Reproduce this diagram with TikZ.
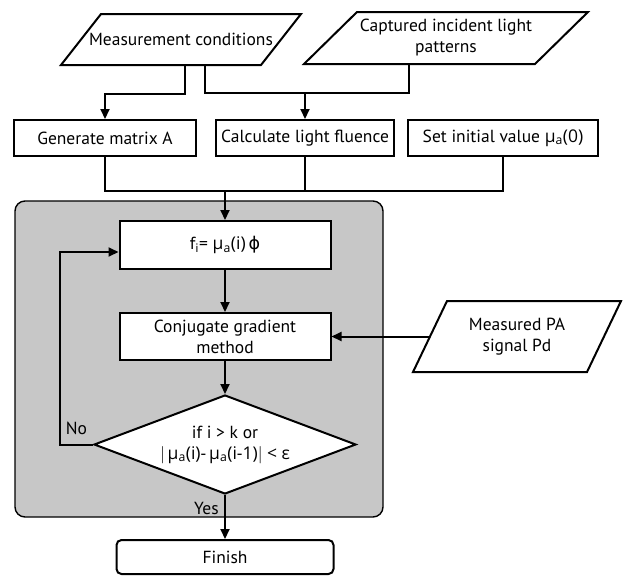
\documentclass[tikz,border=0pt]{standalone}
\usepackage{fontspec}
\setmainfont{PT Sans}
\newfontfamily\grk{Open Sans}
\newfontfamily\sym{DejaVu Sans}
\usetikzlibrary{arrows.meta,shapes.geometric}

\begin{document}
\begin{tikzpicture}[x=1pt,y=-1pt,>={Triangle[length=10pt,width=9pt]},
  line width=2pt,font=\fontsize{17.5}{21}\selectfont]
  \tikzstyle{io}=[inner sep=0pt,align=center]
  \tikzstyle{process}=[draw,fill=white,minimum height=36pt,inner sep=2pt,align=center]
  \tikzstyle{decision}=[draw,fill=white,diamond,aspect=2.65,inner sep=0pt,
    minimum width=262pt,minimum height=99pt,align=center]
  \tikzstyle{loopbg}=[draw,fill=black!22,rounded corners=10pt,line width=1.4pt,
    minimum width=368pt,minimum height=316pt]

  \useasboundingbox (0,0) rectangle (626,576);

  \node[loopbg] (L) at (199,359) {};

  \node[io,minimum width=238pt,minimum height=49pt] (MC) at (181,39.5) {Measurement conditions};
  \node[io,minimum width=282pt,minimum height=50pt] (CP) at (446,38) {Captured incident light\\patterns};
  \node[process,minimum width=182pt] (GA)  at (105,138) {Generate matrix A};
  \node[process,minimum width=178pt] (CLF) at (305,138) {Calculate light fluence};
  \node[process,minimum width=190pt] (SIV) at (503,138) {Set initial value \grk{μ}\textsubscript{a}(0)};
  \node[process,minimum width=211pt,minimum height=48pt] (F)  at (225,245) {f\textsubscript{i}= \grk{μ}\textsubscript{a}(i)\,{\sym ϕ}};
  \node[process,minimum width=211pt,minimum height=47pt] (CG) at (225,336.5) {Conjugate gradient\\method};
  \node[io,minimum width=206pt,minimum height=69pt] (PA) at (517,336.5) {Measured PA\\signal Pd};
  \node[decision] (T) at (225,444.5) {if i > k or\\$\big|$\,\grk{μ}\textsubscript{a}(i)-\,\grk{μ}\textsubscript{a}(i-1)$\big|$ < \grk{ε}};
  \node[process,rounded corners=5pt,minimum width=217pt,minimum height=34pt] (Fin) at (225,557) {Finish};

  % parallelograms round the input nodes
  \foreach \n/\s in {MC/40,CP/53,PA/34}
    \draw ([xshift=\s pt]\n.north west) -- (\n.north east)
      -- ([xshift=-\s pt]\n.south east) -- (\n.south west) -- cycle;

  \coordinate (split) at (CLF.north |- 0,92);
  \coordinate (merge) at (F.north |- 0,191);

  \draw[->] ([xshift=4pt]MC.south) -- ++(0,29) -| (GA.north);
  \draw ([xshift=24pt]MC.south) -- ++(0,28) -| ([xshift=-37pt]CP.south);
  \draw[->] (split) -- (CLF.north);
  \draw (GA.south) |- (merge) -| (SIV.south);
  \draw (CLF.south) -- (CLF.south |- merge);
  \draw[->] (merge) -- (F.north);
  \draw[->] (F) -- (CG);
  \draw[->] ([xshift=17pt]PA.west) -- (CG.east);
  \draw[->] (CG) -- (T);
  \draw[->] (T.west) -- ++(-33,0) node[midway,above=5pt] {No} |- ([yshift=-7pt]F.west);
  \draw[->] (T.south) -- (Fin.north) node[pos=0.3,left=2pt] {Yes};
\end{tikzpicture}
\end{document}
